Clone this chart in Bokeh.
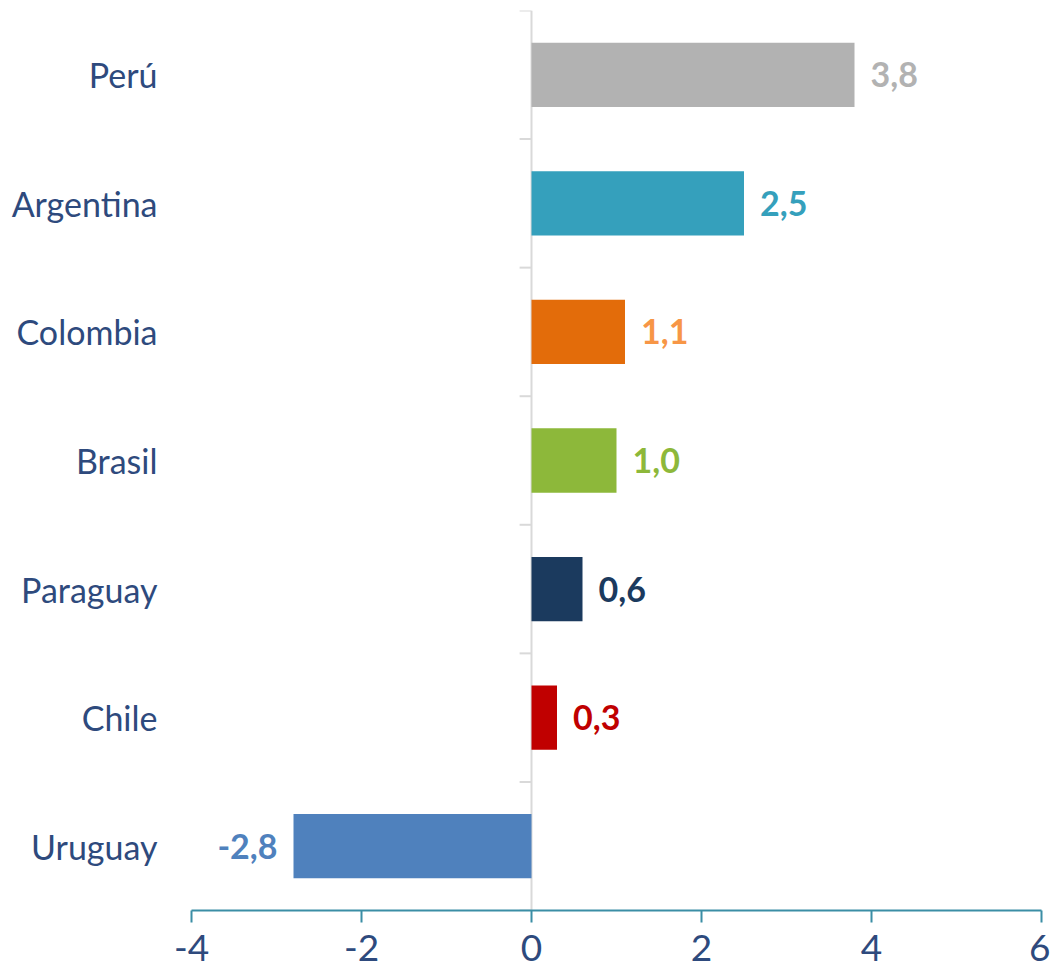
from bokeh.plotting import figure
from bokeh.models import Range1d, FixedTicker, ColumnDataSource, Span
from bokeh.core.properties import value
from bokeh.embed import file_html
from bokeh.resources import INLINE

countries = ["Perú", "Argentina", "Colombia", "Brasil", "Paraguay", "Chile", "Uruguay"]
values = [3.8, 2.5, 1.1, 1.0, 0.6, 0.3, -2.8]
bar_colors = ["#b2b2b2", "#35a0bc", "#e36c0a", "#8db83a", "#1b3a5e", "#c00000", "#4f81bd"]
label_colors = ["#b2b2b2", "#35a0bc", "#f79646", "#8db83a", "#1b3a5e", "#c00000", "#4f81bd"]
x_ticks = [-4, -2, 0, 2, 4, 6]
x_tick_labels = ["-4", "-2", "0", "2", "4", "6"]

n = len(countries)
ypos = [n - 1 - i for i in range(n)]
labels = [f"{v:.1f}".replace(".", ",") for v in values]

FONT = "Lato"
TEXT_BLUE = "#2e4a7d"

p = figure(width=1050, height=974, x_range=Range1d(-4, 6), y_range=Range1d(-0.5, n - 0.5),
           output_backend="svg", toolbar_location=None,
           min_border_left=191, min_border_right=9, min_border_top=10, min_border_bottom=64)
p.outline_line_color = None
p.xgrid.grid_line_color = None
p.ygrid.grid_line_color = None
p.background_fill_color = "white"

# zero line
p.add_layout(Span(location=0, dimension="height", line_color="#d9d9d9", line_width=2, level="underlay"))

# category boundary ticks on the zero line
bounds = [i - 0.5 for i in range(n + 1)]
p.segment(x0=[0] * len(bounds), x1=[-0.14] * len(bounds), y0=bounds, y1=bounds,
          line_color="#d9d9d9", line_width=2)

pos = [v >= 0 for v in values]
src = ColumnDataSource(dict(y=ypos, v=values, color=bar_colors, lab=labels, lc=label_colors,
                            align=["left" if b else "right" for b in pos],
                            off=[16 if b else -16 for b in pos]))
p.hbar(y="y", left=0, right="v", height=0.5, fill_color="color", line_color=None, source=src)
p.text(x="v", y="y", text="lab", text_color="lc", text_align="align", x_offset="off",
       text_baseline="middle", text_font=value(FONT), text_font_style="bold",
       text_font_size="34px", source=src)

# y axis (categories)
ya = p.yaxis[0]
ya.ticker = FixedTicker(ticks=ypos)
ya.major_label_overrides = {y: c for y, c in zip(ypos, countries)}
ya.axis_line_color = None
ya.major_tick_line_color = None
ya.minor_tick_line_color = None
ya.major_label_standoff = 28
ya.major_label_text_font = FONT
ya.major_label_text_font_size = "34px"
ya.major_label_text_color = TEXT_BLUE

# x axis
xa = p.xaxis[0]
xa.ticker = FixedTicker(ticks=x_ticks)
xa.major_label_overrides = {t: s for t, s in zip(x_ticks, x_tick_labels)}
xa.axis_line_color = "#3b8ea5"
xa.axis_line_width = 2
xa.major_tick_line_color = "#3b8ea5"
xa.major_tick_line_width = 2
xa.major_tick_out = 12
xa.major_tick_in = 0
xa.minor_tick_line_color = None
xa.major_label_standoff = 12
xa.major_label_text_font = FONT
xa.major_label_text_font_size = "37px"
xa.major_label_text_color = TEXT_BLUE

open("out.html", "w").write(file_html(p, INLINE))
